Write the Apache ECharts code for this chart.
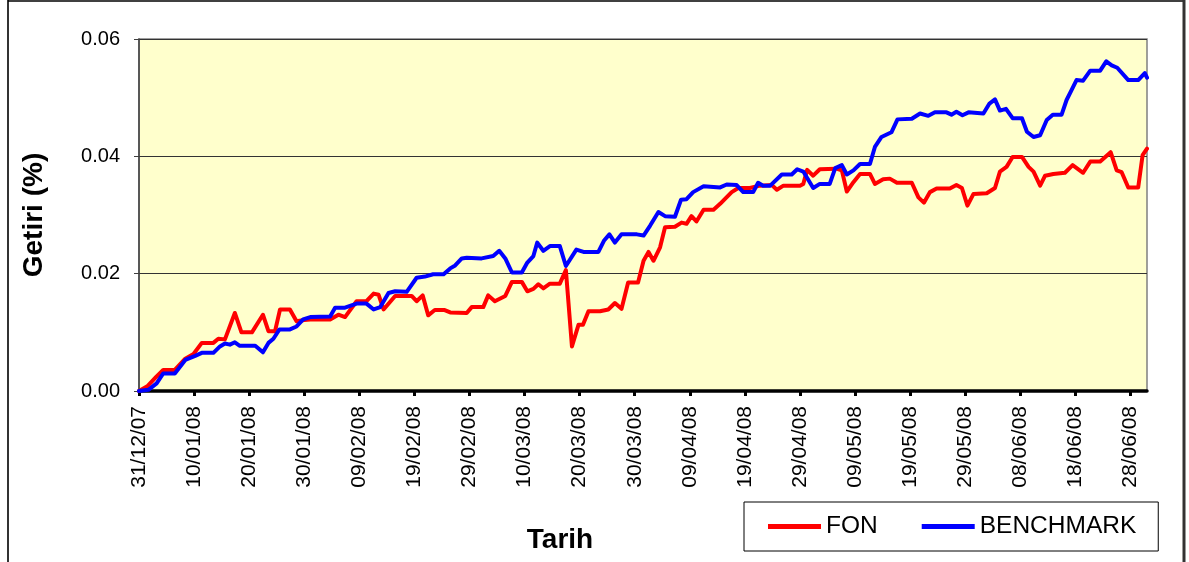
<!DOCTYPE html>
<html>
<head>
<meta charset="utf-8">
<title>FON - BENCHMARK</title>
<script src="https://cdn.jsdelivr.net/npm/echarts@6/dist/echarts.min.js"></script>
<style>
  html, body { margin: 0; padding: 0; background: #fff; }
  #chart { width: 1189px; height: 562px; }
</style>
</head>
<body>
<div id="chart"></div>
<script>
// x = days since 31/12/07
const tickDays = [0, 10, 20, 30, 40, 50, 60, 70, 80, 90, 100, 110, 120, 130, 140, 150, 160, 170, 180];
const tickLabels = ['31/12/07', '10/01/08', '20/01/08', '30/01/08', '09/02/08', '19/02/08', '29/02/08',
  '10/03/08', '20/03/08', '30/03/08', '09/04/08', '19/04/08', '29/04/08', '09/05/08', '19/05/08',
  '29/05/08', '08/06/08', '18/06/08', '28/06/08'];
const lastDay = 183;

const fonDays = [0, 1.5, 3.2, 4.4, 6.5, 8.4, 9.9, 11.4, 13.5, 14.4, 15.6, 17.4, 18.6, 20.5, 22.5, 23.5, 24.7,
  25.6, 27.4, 28.6, 30, 31.1, 34.7, 36.2, 37.4, 39.5, 41.3, 42.6, 43.5, 44.4, 46.5, 49.5, 50.4, 51.5, 52.5,
  53.7, 55.5, 56.5, 59.5, 60.4, 62.5, 63.4, 64.6, 66.5, 67.7, 69.5, 70.5, 71.6, 72.5, 73.4, 74.6, 76.4, 77.5,
  78.6, 79.8, 80.6, 81.6, 83.7, 85.2, 86.4, 87.6, 88.8, 90.6, 91.6, 92.5, 93.4, 94.6, 95.5, 97.3, 98.5, 99.4,
  100.3, 101.2, 102.5, 104.3, 105.5, 107.6, 108.8, 110.9, 112.7, 114.9, 115.8, 117, 120, 120.6, 121.3, 122.4,
  123.6, 126.6, 127.6, 128.5, 129.7, 130.9, 132.7, 133.6, 135.1, 136.3, 137.6, 140.3, 141.5, 142.5, 143.6,
  144.8, 147.2, 148.4, 149.4, 150.4, 151.5, 153.9, 155.4, 156.3, 157.5, 158.6, 160.3, 161.5, 162.4, 163.6,
  164.5, 166, 168.1, 169.5, 171.4, 172.7, 174.5, 176.4, 177.5, 178.4, 179.6, 181.4, 182.2, 183];
const fonValues = [0, 0.0008, 0.0025, 0.0036, 0.0036, 0.0055, 0.0063, 0.0082, 0.0082, 0.0089, 0.0088, 0.0133,
  0.0100, 0.0100, 0.0130, 0.0102, 0.0102, 0.0139, 0.0139, 0.0119, 0.0121, 0.0122, 0.0122, 0.0130, 0.0126,
  0.0153, 0.0153, 0.0166, 0.0164, 0.0139, 0.0162, 0.0162, 0.0153, 0.0163, 0.0129, 0.0138, 0.0138, 0.0134,
  0.0133, 0.0143, 0.0143, 0.0163, 0.0153, 0.0162, 0.0186, 0.0186, 0.0170, 0.0174, 0.0182, 0.0175, 0.0183,
  0.0183, 0.0206, 0.0076, 0.0113, 0.0113, 0.0136, 0.0136, 0.0139, 0.0150, 0.0140, 0.0185, 0.0185, 0.0222,
  0.0237, 0.0222, 0.0245, 0.0279, 0.0280, 0.0287, 0.0285, 0.0298, 0.0289, 0.0309, 0.0309, 0.0319, 0.0339,
  0.0346, 0.0346, 0.0350, 0.0351, 0.0343, 0.0350, 0.0350, 0.0353, 0.0377, 0.0367, 0.0378, 0.0379, 0.0376,
  0.0340, 0.0356, 0.0370, 0.0370, 0.0353, 0.0361, 0.0362, 0.0355, 0.0355, 0.0330, 0.0321, 0.0339, 0.0345,
  0.0345, 0.0351, 0.0346, 0.0316, 0.0336, 0.0337, 0.0346, 0.0374, 0.0382, 0.0399, 0.0399, 0.0382, 0.0374,
  0.0350, 0.0367, 0.0370, 0.0372, 0.0385, 0.0372, 0.0391, 0.0391, 0.0407, 0.0376, 0.0373, 0.0347, 0.0347,
  0.0402, 0.0413];

const benchDays = [0, 1.7, 3.2, 4.4, 6.5, 8.4, 10.2, 11.4, 13.5, 14.7, 15.6, 16.5, 17.4, 18.3, 21.1, 22.5, 23.5,
  24.4, 25.5, 27.4, 28.6, 29.8, 31.1, 34.7, 35.6, 37.4, 39.5, 41.3, 42.6, 43.8, 45.3, 46.5, 48.6, 50.4, 51.9,
  53.4, 55.3, 56.5, 57.4, 58.6, 59.5, 62.2, 64.3, 65.4, 66.5, 67.7, 69.5, 70.5, 71.6, 72.3, 73.4, 74.6, 76.4,
  77.5, 79.4, 80.7, 83.4, 84.4, 85.4, 86.4, 87.6, 90.4, 91.6, 92.8, 94.3, 95.5, 97.3, 98.4, 99.4, 100.6, 102.5,
  105.5, 106.7, 108.5, 109.7, 111.5, 112.4, 113.3, 114.6, 116.7, 118.5, 119.5, 120.6, 122.4, 123.6, 125.4,
  126.4, 127.6, 128.5, 129.7, 130.9, 132.7, 133.6, 134.8, 136.6, 137.7, 140.3, 141.8, 143.3, 144.5, 146.6,
  147.5, 148.4, 149.5, 150.6, 153.3, 154.4, 155.4, 156.3, 157.4, 158.6, 160.3, 161.2, 162.4, 163.6, 164.8,
  165.9, 167.5, 168.4, 169.3, 170.2, 171.4, 172.7, 174.5, 175.6, 176.6, 177.6, 179.6, 181.4, 182.6, 183];
const benchValues = [0, 0.0002, 0.0013, 0.0030, 0.0030, 0.0053, 0.0060, 0.0065, 0.0065, 0.0076, 0.0081, 0.0079,
  0.0083, 0.0077, 0.0077, 0.0066, 0.0082, 0.0089, 0.0105, 0.0105, 0.0110, 0.0122, 0.0126, 0.0127, 0.0142,
  0.0142, 0.0149, 0.0149, 0.0139, 0.0143, 0.0167, 0.0170, 0.0169, 0.0193, 0.0195, 0.0199, 0.0199, 0.0209,
  0.0214, 0.0226, 0.0227, 0.0226, 0.0230, 0.0239, 0.0226, 0.0202, 0.0202, 0.0219, 0.0230, 0.0253, 0.0239,
  0.0247, 0.0247, 0.0213, 0.0241, 0.0237, 0.0237, 0.0256, 0.0267, 0.0253, 0.0267, 0.0267, 0.0265, 0.0282,
  0.0305, 0.0298, 0.0297, 0.0326, 0.0327, 0.0339, 0.0349, 0.0347, 0.0352, 0.0351, 0.0339, 0.0339, 0.0355,
  0.0350, 0.0350, 0.0369, 0.0369, 0.0378, 0.0374, 0.0346, 0.0353, 0.0353, 0.0380, 0.0385, 0.0369, 0.0376,
  0.0387, 0.0387, 0.0416, 0.0433, 0.0441, 0.0463, 0.0464, 0.0473, 0.0469, 0.0475, 0.0475, 0.0471, 0.0476,
  0.0470, 0.0475, 0.0473, 0.0490, 0.0497, 0.0478, 0.0481, 0.0465, 0.0465, 0.0442, 0.0433, 0.0436, 0.0462,
  0.0471, 0.0471, 0.0496, 0.0513, 0.0530, 0.0529, 0.0546, 0.0546, 0.0562, 0.0555, 0.0551, 0.0530, 0.0530,
  0.0542, 0.0534];

const FONT = '"Liberation Sans", Arial, sans-serif';

function pairs(days, values) {
  return days.map((d, i) => [d, values[i]]);
}

const chart = echarts.init(document.getElementById('chart'));

chart.setOption({
  backgroundColor: '#fff',
  animation: false,
  textStyle: { fontFamily: FONT, color: '#000' },
  grid: {
    left: 139, top: 39, width: 1008, height: 352,
    show: true, backgroundColor: '#FFFFCC', borderColor: '#808080', borderWidth: 1.5
  },
  legend: {
    left: 744, top: 502,
    data: ['FON', 'BENCHMARK'],
    icon: 'rect', itemWidth: 53, itemHeight: 5, itemGap: 44,
    padding: [12, 22, 12, 24],
    borderColor: '#000', borderWidth: 1,
    textStyle: { fontSize: 24.5, color: '#000', fontFamily: FONT }
  },
  xAxis: {
    type: 'value', min: 0, max: lastDay,
    axisLine: { lineStyle: { color: '#000', width: 3.5 } },
    axisTick: { customValues: tickDays, length: 5, lineStyle: { color: '#000', width: 3 } },
    axisLabel: {
      customValues: tickDays,
      rotate: 90, margin: 15, fontSize: 21, color: '#000', fontFamily: FONT,
      formatter: v => tickLabels[tickDays.indexOf(v)]
    },
    splitLine: { show: false }
  },
  yAxis: {
    type: 'value', min: 0, max: 0.06, interval: 0.02,
    name: 'Getiri (%)', nameLocation: 'middle', nameGap: 91,
    nameTextStyle: { fontSize: 28, fontWeight: 'bold', color: '#000', fontFamily: FONT },
    axisLine: { show: true, lineStyle: { color: '#404040', width: 1.5 } },
    axisTick: { show: true, length: 5, lineStyle: { color: '#404040' } },
    axisLabel: { margin: 19, fontSize: 20, color: '#000', fontFamily: FONT, formatter: v => v.toFixed(2) },
    splitLine: { lineStyle: { color: '#333', width: 1 } }
  },
  series: [
    {
      name: 'FON', type: 'line', data: pairs(fonDays, fonValues),
      showSymbol: false, symbol: 'none',
      lineStyle: { color: '#FF0000', width: 4, join: 'round', cap: 'round' },
      itemStyle: { color: '#FF0000' }
    },
    {
      name: 'BENCHMARK', type: 'line', data: pairs(benchDays, benchValues),
      showSymbol: false, symbol: 'none',
      lineStyle: { color: '#0000FF', width: 4, join: 'round', cap: 'round' },
      itemStyle: { color: '#0000FF' }
    }
  ],
  graphic: [
    { type: 'line', shape: { x1: 8, y1: 0, x2: 8, y2: 562 }, style: { stroke: '#333', lineWidth: 2 } },
    { type: 'line', shape: { x1: 8, y1: 1, x2: 1185, y2: 1 }, style: { stroke: '#000', lineWidth: 1.5 } },
    { type: 'line', shape: { x1: 1184, y1: 0, x2: 1184, y2: 562 }, style: { stroke: '#333', lineWidth: 3 } },
    {
      type: 'text', x: 560, y: 540,
      style: {
        text: 'Tarih', fill: '#000', fontSize: 28, fontWeight: 'bold', fontFamily: FONT,
        align: 'center', verticalAlign: 'middle'
      }
    }
  ]
});
</script>
</body>
</html>
